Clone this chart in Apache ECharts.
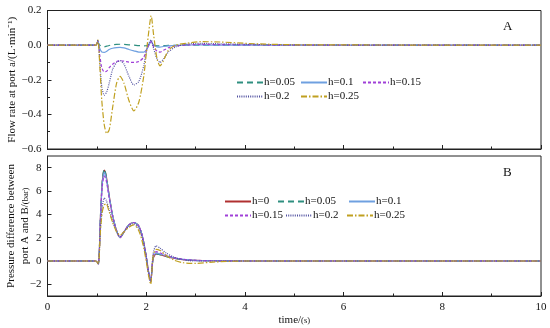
<!DOCTYPE html>
<html><head><meta charset="utf-8">
<script src="https://cdn.jsdelivr.net/npm/echarts@6/dist/echarts.min.js"></script>
<style>html,body{margin:0;padding:0;background:#fff}#c{width:550px;height:328px}</style>
</head><body><div id="c"></div>
<script>
// ---- data ----
const seriesNames = ['h=0', 'h=0.05', 'h=0.1', 'h=0.15', 'h=0.2', 'h=0.25'];
const timeTicks = [0, 2, 4, 6, 8, 10];
const flowTicks = [0.2, 0.0, -0.2, -0.4, -0.6];
const pressTicks = [-2, 0, 2, 4, 6, 8];

// Panel A: flow rate at port a (L/min)
const timeA = [0, 0.98, 1.02, 1.06, 1.1, 1.15, 1.2, 1.25, 1.32, 1.4, 1.47, 1.55, 1.65, 1.75, 1.85, 1.95, 2.02, 2.07, 2.1, 2.15, 2.22, 2.28, 2.35, 2.45, 2.6, 2.8, 3.1, 3.5, 4.2, 5.0, 10];
const flowH005 = [0, 0, 0.015, 0, -0.008, -0.01, -0.006, -0.002, 0.002, 0.004, 0.005, 0.004, 0.002, 0, -0.003, -0.004, -0.002, 0.005, 0.008, 0, -0.004, -0.004, -0.003, -0.002, -0.001, 0, 0, 0, 0, 0, 0];
const flowH01 = [0, 0, 0.02, -0.02, -0.04, -0.042, -0.035, -0.025, -0.018, -0.014, -0.013, -0.016, -0.025, -0.033, -0.04, -0.04, -0.02, 0.01, 0.02, 0, -0.01, -0.012, -0.008, -0.004, -0.001, 0, 0.001, 0, 0, 0, 0];
const flowH015 = [0, 0, 0.02, -0.06, -0.13, -0.155, -0.15, -0.13, -0.11, -0.095, -0.09, -0.092, -0.098, -0.1, -0.095, -0.07, -0.02, 0.01, 0.02, -0.01, -0.035, -0.04, -0.03, -0.015, -0.005, 0, 0.004, 0.003, 0.001, 0, 0];
const flowH02 = [0, 0, 0.03, -0.1, -0.24, -0.29, -0.27, -0.22, -0.14, -0.1, -0.09, -0.11, -0.18, -0.23, -0.21, -0.12, -0.01, 0.02, 0.03, -0.02, -0.08, -0.1, -0.08, -0.04, -0.01, 0.005, 0.01, 0.008, 0.004, 0.001, 0];
const flowH025 = [0, 0, 0.03, -0.12, -0.32, -0.46, -0.51, -0.49, -0.36, -0.22, -0.18, -0.22, -0.32, -0.38, -0.33, -0.18, 0.0, 0.12, 0.17, 0.06, -0.08, -0.12, -0.09, -0.03, 0.0, 0.01, 0.02, 0.018, 0.008, 0.002, 0];

// Panel B: pressure difference between port A and B (bar)
const timeB = [0, 0.98, 1.03, 1.07, 1.11, 1.15, 1.19, 1.25, 1.32, 1.4, 1.47, 1.55, 1.65, 1.75, 1.85, 1.93, 2.0, 2.05, 2.09, 2.14, 2.2, 2.28, 2.4, 2.55, 2.75, 3.0, 3.4, 4.0, 10];
const pressH0 = [0, 0, -0.25, 3.5, 6.8, 7.8, 7.3, 5.6, 3.9, 2.6, 2.0, 2.5, 3.1, 3.3, 3.0, 2.0, 0.4, -1.0, -1.7, 0.2, 0.6, 0.55, 0.4, 0.25, 0.12, 0.05, 0.02, 0, 0];
const pressH005 = [0, 0, -0.25, 3.6, 6.9, 7.9, 7.3, 5.6, 3.9, 2.6, 2.0, 2.5, 3.1, 3.3, 3.0, 2.0, 0.4, -1.0, -1.7, 0.2, 0.6, 0.55, 0.4, 0.25, 0.12, 0.05, 0.02, 0, 0];
const pressH01 = [0, 0, -0.25, 3.4, 6.6, 7.6, 7.1, 5.5, 3.9, 2.6, 2.0, 2.5, 3.1, 3.3, 3.0, 2.0, 0.4, -1.0, -1.7, 0.3, 0.7, 0.6, 0.45, 0.28, 0.14, 0.06, 0.02, 0, 0];
const pressH015 = [0, 0, -0.25, 3.3, 6.4, 7.3, 6.9, 5.4, 3.8, 2.6, 2.0, 2.5, 3.1, 3.3, 3.0, 2.0, 0.4, -1.0, -1.8, 0.4, 0.8, 0.7, 0.5, 0.3, 0.15, 0.06, 0.02, 0, 0];
const pressH02 = [0, 0, -0.25, 2.6, 4.6, 5.4, 5.2, 4.4, 3.4, 2.5, 2.1, 2.5, 3.0, 3.2, 2.8, 1.8, 0.3, -1.1, -1.8, 0.6, 1.3, 1.1, 0.7, 0.35, 0.1, 0.0, 0.0, 0, 0];
const pressH025 = [0, 0, -0.25, 2.4, 4.2, 4.8, 4.9, 4.2, 3.3, 2.5, 2.2, 2.5, 2.9, 3.1, 2.6, 1.5, 0.0, -1.3, -2.0, 0.4, 1.0, 0.9, 0.5, 0.1, -0.15, -0.2, -0.08, 0, 0];

// ---- styles ----
const colors = {'h=0':'#b03030','h=0.05':'#2f8f80','h=0.1':'#6fa0e0','h=0.15':'#a040d8','h=0.2':'#5050a0','h=0.25':'#c0a020'};
const dashes = {'h=0':'solid','h=0.05':[6,4],'h=0.1':'solid','h=0.15':[3,2],'h=0.2':[1,1.2],'h=0.25':[6,2,1.5,2]};
const FONT = '"Liberation Serif", "Times New Roman", serif';

function pairs(t, v){ return t.map((x,i)=>[x, v[i]]); }
function mk(name, t, v, idx){
  return {name, type:'line', xAxisIndex:idx, yAxisIndex:idx, data:pairs(t,v), symbol:'none', smooth:0.25,
    lineStyle:{color:colors[name], width:1.2, type:dashes[name]}, itemStyle:{color:colors[name]}, animation:false};
}
const series = [
  mk('h=0.05', timeA, flowH005, 0), mk('h=0.1', timeA, flowH01, 0), mk('h=0.15', timeA, flowH015, 0),
  mk('h=0.2', timeA, flowH02, 0), mk('h=0.25', timeA, flowH025, 0),
  mk('h=0', timeB, pressH0, 1), mk('h=0.05', timeB, pressH005, 1), mk('h=0.1', timeB, pressH01, 1),
  mk('h=0.15', timeB, pressH015, 1), mk('h=0.2', timeB, pressH02, 1), mk('h=0.25', timeB, pressH025, 1)
];

function leg(name, left, top){
  return {data:[name], left, top, itemWidth:26, itemHeight:8, itemGap:0, padding:0,
    itemStyle:{opacity:0},
    textStyle:{fontFamily:FONT, fontSize:11, color:'#111', padding:[0,0,0,-4]}};
}
const legends = [
  leg('h=0.05', 236, 77), leg('h=0.1', 300, 77), leg('h=0.15', 362, 77),
  leg('h=0.2', 236, 91), leg('h=0.25', 300, 91),
  leg('h=0', 224, 196), leg('h=0.05', 277, 196), leg('h=0.1', 348, 196),
  leg('h=0.15', 224, 210), leg('h=0.2', 285, 210), leg('h=0.25', 346, 210)
];

const axisLineS = {show:true, onZero:false, lineStyle:{color:'#222', width:1}};
const xCommon = {type:'value', min:0, max:10, interval:2, splitLine:{show:false},
  axisLine:axisLineS, axisTick:{inside:true, length:4, lineStyle:{color:'#222'}},
  minorTick:{show:true, splitNumber:2, length:2.5, lineStyle:{color:'#222'}}};

const option = {
  backgroundColor:'#fff',
  animation:false,
  grid:[
    {left:47.5, right:9, top:10.5, height:138.5, show:true, borderColor:'#222', borderWidth:1, containLabel:false, outerBoundsMode:'none'},
    {left:47.5, right:9, top:156, height:140, show:true, borderColor:'#222', borderWidth:1, containLabel:false, outerBoundsMode:'none'}
  ],
  legend: legends,
  xAxis:[
    Object.assign({}, xCommon, {gridIndex:0, axisLabel:{show:false}}),
    Object.assign({}, xCommon, {gridIndex:1,
      axisLabel:{show:true, fontFamily:FONT, fontSize:11, color:'#111', margin:6,
        customValues:timeTicks},
      name:'time/{s|(s)}', nameLocation:'middle', nameGap:19, nameMoveOverlap:false,
      nameTextStyle:{fontFamily:FONT, fontSize:11, color:'#111', rich:{s:{fontFamily:FONT, fontSize:8.5, color:'#111'}}}})
  ],
  yAxis:[
    {type:'value', gridIndex:0, min:-0.6, max:0.2, interval:0.2, splitLine:{show:false},
      axisLine:axisLineS, axisTick:{inside:true, length:4, lineStyle:{color:'#222'}},
      minorTick:{show:true, splitNumber:2, length:2.5, lineStyle:{color:'#222'}},
      axisLabel:{fontFamily:FONT, fontSize:11, color:'#111', margin:6,
        customValues:flowTicks,
        formatter:v=>v.toFixed(1).replace('-', '\u2212')},
      name:'Flow rate at port a/(L\u00B7min\u207B\u00B9)', nameLocation:'middle', nameGap:30, nameMoveOverlap:false,
      nameTextStyle:{fontFamily:FONT, fontSize:11, color:'#111'}},
    {type:'value', gridIndex:1, min:-3, max:9, splitLine:{show:false},
      axisLine:axisLineS,
      axisTick:{inside:true, length:4, lineStyle:{color:'#222'}, customValues:pressTicks},
      axisLabel:{fontFamily:FONT, fontSize:11, color:'#111', margin:6, customValues:pressTicks,
        formatter:v=>String(v).replace('-', '\u2212')},
      name:'Pressure difference between\nport A and B/{s|(bar)}', nameLocation:'middle', nameGap:15, nameMoveOverlap:false,
      nameTextStyle:{fontFamily:FONT, fontSize:11, color:'#111', lineHeight:14, align:'center',
        rich:{s:{fontFamily:FONT, fontSize:8.5, color:'#111'}}}}
  ],
  graphic:[
    {type:'text', left:503, top:20, style:{text:'A', font:'13px "Liberation Serif", serif', fill:'#111'}},
    {type:'text', left:503, top:166, style:{text:'B', font:'13px "Liberation Serif", serif', fill:'#111'}}
  ],
  series
};
const chart = echarts.init(document.getElementById('c'), null, {renderer:'canvas'});
chart.setOption(option);
</script></body></html>
